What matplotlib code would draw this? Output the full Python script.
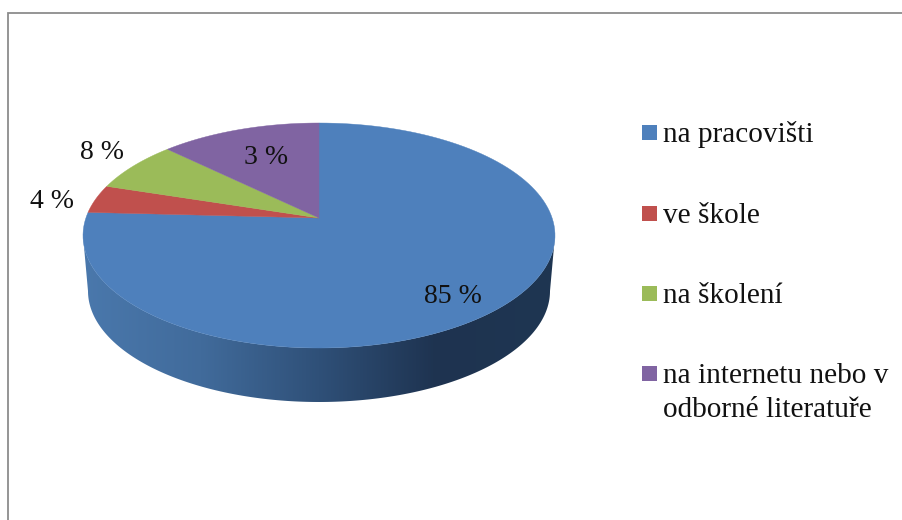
import numpy as np
import matplotlib
matplotlib.use('Agg')
import matplotlib.pyplot as plt
from matplotlib.patches import Polygon, Rectangle
from matplotlib.colors import LinearSegmentedColormap

# DATA
kategorie = ['na pracovišti', 've škole', 'na školení', 'na internetu nebo v\nodborné literatuře']
podily = [78.3, 3.9, 6.7, 11.1]   # how big the slices are drawn
popisky = ['85 %', '4 %', '8 %', '3 %']   # what the labels say
barvy = ['#4E80BC', '#C0504D', '#9BBB59', '#8064A2']

plt.rcParams['font.family'] = ['Liberation Serif', 'DejaVu Serif']

fig = plt.figure(figsize=(9.03, 5.2), dpi=100)
ax = fig.add_axes([0, 0, 1, 1])
ax.set_xlim(0, 903)
ax.set_ylim(520, 0)
ax.axis('off')

# frame, only left and top are visible
ax.plot([8, 8, 903], [520, 13, 13], color='#8c8c8c', lw=1.3, solid_joinstyle='miter')

# pie geometry
cx, cy, rx, ry = 319, 235.5, 236, 112.5
apex = (319, 218)
cx2, cy2, rx2, ry2 = 319, 291, 231, 111

def rim(t):
    return cx + rx*np.sin(t), cy - ry*np.cos(t)

# side wall with gradient
t = np.linspace(np.pi/2, 3*np.pi/2, 200)
xt, yt = rim(t)
xb = cx2 + rx2*np.sin(t)
yb = cy2 - ry2*np.cos(t)
wall = np.column_stack([np.r_[xt, xb[::-1]], np.r_[yt, yb[::-1]]])
patch = Polygon(wall, closed=True, fc='none', ec='none')
ax.add_patch(patch)
cmap = LinearSegmentedColormap.from_list('stena', [
    (0.0, '#4A78AC'), (0.25, '#416B9B'), (0.5, '#2F5078'),
    (0.75, '#1E3350'), (1.0, '#1F3652')])
img = ax.imshow(np.linspace(0, 1, 256).reshape(1, -1), cmap=cmap, aspect='auto',
                extent=[83, 555, 402, 200], zorder=1)
img.set_clip_path(patch)
ax.set_xlim(0, 903)
ax.set_ylim(520, 0)

# top surface
hranice = np.r_[0, np.cumsum(podily)] / np.sum(podily) * 2*np.pi
for i in range(len(podily)):
    tt = np.linspace(hranice[i], hranice[i+1], 150)
    x, y = rim(tt)
    pts = np.column_stack([np.r_[apex[0], x], np.r_[apex[1], y]])
    ax.add_patch(Polygon(pts, closed=True, fc=barvy[i], ec=barvy[i], lw=0.3, zorder=2))

# labels
pozice = [(452.5, 303), (52.5, 208), (102.5, 159), (266.5, 164)]
for (px, py), s in zip(pozice, popisky):
    ax.text(px, py, s, ha='center', va='baseline', fontsize=20, color='#111111', zorder=3)

# legend
ctverce = [125, 206, 286, 366]
zaklady = [142, 223, 303, 383]
for i in range(len(kategorie)):
    ax.add_patch(Rectangle((642, ctverce[i]), 15, 15, fc=barvy[i], ec='none'))
    ax.text(663, zaklady[i], kategorie[i].split('\n')[0], ha='left', va='baseline',
            fontsize=21.1, color='#111111')
    if '\n' in kategorie[i]:
        ax.text(663, zaklady[i]+34, kategorie[i].split('\n')[1], ha='left', va='baseline',
                fontsize=21.1, color='#111111')

fig.savefig('out.png', dpi=100)
